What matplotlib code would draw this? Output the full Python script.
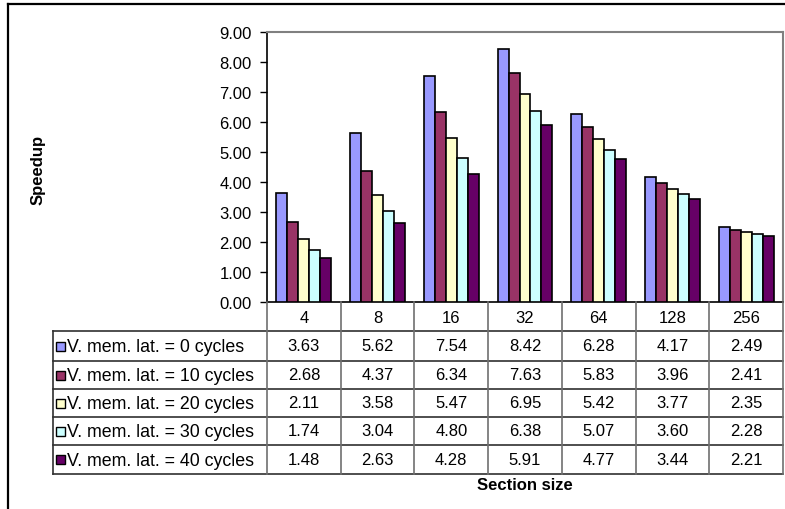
import matplotlib
matplotlib.use("Agg")
import matplotlib.pyplot as plt
from matplotlib.transforms import blended_transform_factory
from matplotlib.patches import Rectangle

plt.rcParams['font.family'] = ['Liberation Sans', 'DejaVu Sans']

# Data
section_sizes = ["4", "8", "16", "32", "64", "128", "256"]
series_labels = [
    "V. mem. lat. = 0 cycles",
    "V. mem. lat. = 10 cycles",
    "V. mem. lat. = 20 cycles",
    "V. mem. lat. = 30 cycles",
    "V. mem. lat. = 40 cycles",
]
lat_0 = [3.63, 5.62, 7.54, 8.42, 6.28, 4.17, 2.49]
lat_10 = [2.68, 4.37, 6.34, 7.63, 5.83, 3.96, 2.41]
lat_20 = [2.11, 3.58, 5.47, 6.95, 5.42, 3.77, 2.35]
lat_30 = [1.74, 3.04, 4.80, 6.38, 5.07, 3.60, 2.28]
lat_40 = [1.48, 2.63, 4.28, 5.91, 4.77, 3.44, 2.21]
series_values = [lat_0, lat_10, lat_20, lat_30, lat_40]
colors = ["#9999FF", "#993366", "#FFFFCC", "#CCFFFF", "#660066"]

W, H = 785, 510
fig = plt.figure(figsize=(W / 100, H / 100), dpi=100)
fig.patch.set_facecolor("white")

# Plot area in pixel coordinates
px_left, px_right, px_top, px_bottom = 267, 783, 33, 303
ax = fig.add_axes([px_left / W, 1 - px_bottom / H,
                   (px_right - px_left) / W, (px_bottom - px_top) / H])

n = len(section_sizes)
bar_w = 0.149
x = list(range(n))
for i, (vals, c) in enumerate(zip(series_values, colors)):
    ax.bar([xi + (i - 2) * bar_w for xi in x], vals, width=bar_w, color=c,
           edgecolor="black", linewidth=1.2, zorder=3)

ax.set_xlim(-0.5, n - 0.5)
ax.set_ylim(0, 9)
ax.set_yticks(range(0, 10))
ax.set_yticklabels([f"{v:.2f}" for v in range(0, 10)], fontsize=12)
ax.set_xticks([])
ax.tick_params(axis="y", direction="out", length=5, width=1, pad=6)
for s in ("top", "right"):
    ax.spines[s].set_color("#808080")
    ax.spines[s].set_linewidth(1.5)
for s in ("left", "bottom"):
    ax.spines[s].set_color("black")
    ax.spines[s].set_linewidth(1.2)

# Overlay in pixel coordinates for the data table and frame
ov_top = fig.add_axes([0, 0, 1, 1], zorder=5)
ov_top.set_xlim(0, W)
ov_top.set_ylim(H, 0)
ov_top.axis("off")
ov_top.patch.set_alpha(0)

# Outer chart frame
ov_top.plot([8, W], [5, 5], color="black", lw=1.6)
ov_top.plot([8, 8], [5, H], color="black", lw=1.6)

# Data table
tr = blended_transform_factory(ax.transData, ov_top.transData)
row_edges = [303, 332, 362, 390, 418, 446, 475]
table_left = 53
line_col = "#303030"
for yv in row_edges[1:]:
    ov_top.plot([table_left, px_right], [yv, yv], color=line_col, lw=1.2)
ov_top.plot([table_left, table_left], [row_edges[1], row_edges[-1]], color=line_col, lw=1.2)
for k in range(n + 1):
    ov_top.plot([k - 0.5, k - 0.5], [row_edges[0], row_edges[-1]],
                color="#707070", lw=1.2, transform=tr)

# header row
for k, lab in enumerate(section_sizes):
    ov_top.text(k, (row_edges[0] + row_edges[1]) / 2 + 1, lab, transform=tr,
                ha="center", va="center", fontsize=12)
# data rows
for r, (lab, vals, c) in enumerate(zip(series_labels, series_values, colors)):
    yc = (row_edges[r + 1] + row_edges[r + 2]) / 2
    ov_top.add_patch(Rectangle((55.5, yc - 4.5), 9, 9, facecolor=c,
                               edgecolor="black", lw=1.0))
    ov_top.text(67, yc + 1, lab, ha="left", va="center", fontsize=12.8)
    for k, v in enumerate(vals):
        ov_top.text(k, yc, f"{v:.2f}", transform=tr,
                    ha="center", va="center", fontsize=12)

# Axis titles
ov_top.text(38, 170, "Speedup", rotation=90, ha="center", va="center",
            fontsize=12, fontweight="bold")
ov_top.text(525, 486, "Section size", ha="center", va="center",
            fontsize=12, fontweight="bold")

fig.savefig("out.png", dpi=100)
